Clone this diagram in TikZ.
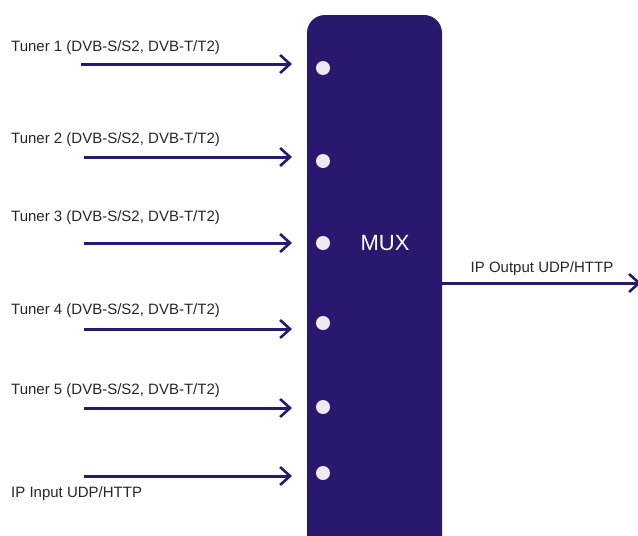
\documentclass[tikz,border=0pt]{standalone}
\usepackage{fontspec}
\setmainfont{Liberation Sans}
\usetikzlibrary{arrows.meta}
\definecolor{navy}{HTML}{2A186E}
\definecolor{dotc}{HTML}{ECECF0}
\begin{document}
\begin{tikzpicture}[x=1pt,y=-1pt,
  lbl/.style={font=\fontsize{15}{17}\selectfont, anchor=west, inner sep=0pt, text=black!85},
  feed/.style={draw=navy, line width=3pt, -{Straight Barb[length=10pt,width=18pt,line width=2.6pt]}},
  portdot/.style={circle, fill=dotc, minimum size=14pt, inner sep=0pt}]
\useasboundingbox (0,0) rectangle (638,536);
\fill[navy, rounded corners=18pt] (307,15) rectangle (442,555);
\clip (0,0) rectangle (638,536);
\node[font=\fontsize{22}{24}\selectfont, text=white] (mux) at (385,243) {MUX};
\foreach \i/\ys/\yl/\yd/\xs in {1/64/48/68/81, 2/157/140/161/84, 3/243/218/243/84, 4/329/311/323/84, 5/408/391/407/84}{
  \node[lbl] (t\i) at (11,\yl) {Tuner \i\ (DVB-S/S2, DVB-T/T2)};
  \coordinate (s\i) at (\xs,\ys);
  \coordinate (e\i) at (292,\ys);
  \node[portdot] (d\i) at (323,\yd) {};
  \draw[feed] (s\i) -- (e\i);
}
\node[lbl] (ipin) at (11,494) {IP Input UDP/HTTP};
\coordinate (s6) at (84,476);
\coordinate (e6) at (292,476);
\node[portdot] (d6) at (323,473) {};
\draw[feed] (s6) -- (e6);
\coordinate (o1) at (442,283);
\coordinate (o2) at (641,283);
\draw[feed] (o1) -- (o2);
\node[lbl, anchor=center] (ipout) at (542,269) {IP Output UDP/HTTP};
\end{tikzpicture}
\end{document}
